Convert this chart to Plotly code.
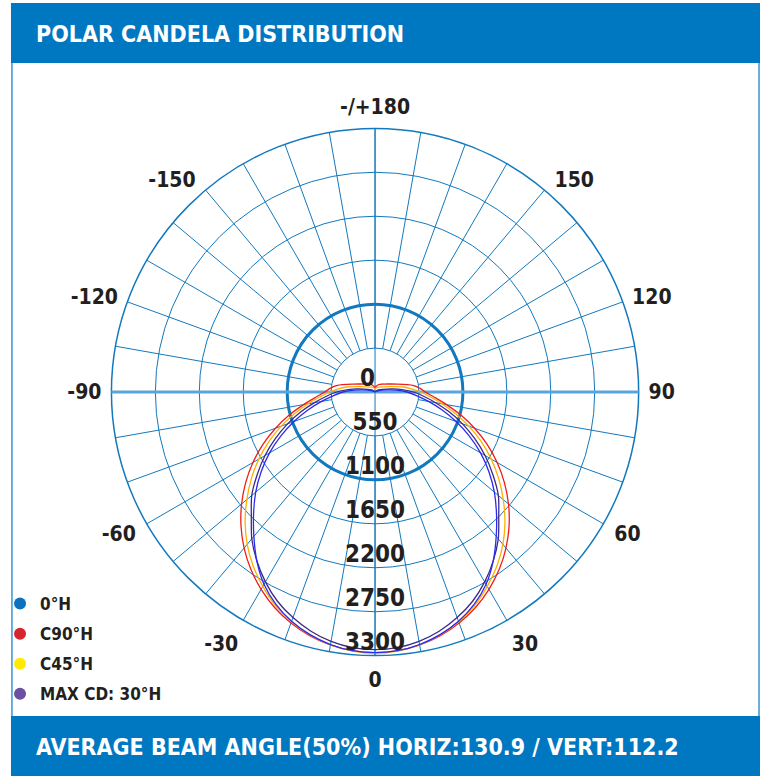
import plotly.graph_objects as go

# ---------------- data ----------------
ANGLES = [0, 5, 10, 15, 20, 25, 30, 35, 40, 45, 50, 55, 60, 65, 70, 75, 80, 85, 90,
          95, 100, 110, 120, 130, 140, 150, 160, 170, 180]
CD_0H = [3262, 3250, 3210, 3145, 3055, 2935, 2780, 2580, 2360, 2150, 1950, 1740, 1525, 1300, 1080, 870, 680, 520, 400,
         260, 150, 40, 10, 0, 0, 0, 0, 0, 0]
CD_C90H = [3262, 3250, 3216, 3157, 3076, 2976, 2852, 2710, 2550, 2373, 2181, 1977, 1765, 1546, 1326, 1112, 908, 745, 630,
           560, 480, 290, 200, 155, 130, 110, 90, 70, 50]
CD_C45H = [3270, 3255, 3215, 3150, 3060, 2950, 2810, 2660, 2490, 2300, 2095, 1890, 1680, 1465, 1250, 1040, 850, 690, 570,
           460, 360, 200, 130, 95, 80, 70, 60, 45, 30]
CD_MAX30 = [3225, 3212, 3170, 3100, 3005, 2890, 2745, 2580, 2400, 2190, 2015, 1800, 1590, 1375, 1165, 960, 770, 610, 480,
            340, 230, 100, 50, 25, 15, 10, 8, 5, 0]

SERIES_NAMES = ["0°H", "C90°H", "C45°H", "MAX CD: 30°H"]
LINE_COLORS = ["#2b2bf0", "#f01c1c", "#ffb000", "#3c2a84"]
LEGEND_COLORS = ["#0b72c2", "#d7252f", "#ffea00", "#6a4fa3"]

RADIAL_TICKS = [0, 550, 1100, 1650, 2200, 2750, 3300]
RADIAL_LABELS = ["0", "550", "1100", "1650", "2200", "2750", "3300"]
# angular label positions as they sit in the picture
ANGULAR_TICKS = [0, 30, 61, 90, 110, 139, 180, 221, 250, 270, 299, 330]
ANGULAR_LABELS = ["0", "30", "60", "90", "120", "150", "-/+180", "-150", "-120", "-90", "-60", "-30"]
SPOKE_STEP = 10
R_MAX = 3300

TITLE = "POLAR CANDELA DISTRIBUTION"
FOOTER = "AVERAGE BEAM ANGLE(50%) HORIZ:130.9 / VERT:112.2"

# ---------------- style ----------------
W, H = 762, 776
FONT = "DejaVu Sans Condensed, DejaVu Sans, sans-serif"
BLUE = "#0078c1"
GRID = "#1279be"
AXIS_LIGHT = "#5aa6dc"
TEXT = "#231f20"

CX, CY, RAD = 373, 392, 265
dom_x = [(CX - RAD) / W, (CX + RAD) / W]
dom_y = [(H - CY - RAD) / H, (H - CY + RAD) / H]


def full_circle(vals):
    theta = ANGLES + [360 - a for a in ANGLES[::-1]]
    r = vals + vals[::-1]
    return r, theta


fig = go.Figure()

# empty traces so that every overlay subplot gets drawn
for sp in ["polar", "polar2", "polar3"]:
    fig.add_trace(go.Scatterpolar(r=[None], theta=[None], mode="lines", subplot=sp,
                                  showlegend=False, hoverinfo="skip"))

series = [CD_C90H, CD_C45H, CD_MAX30, CD_0H]
names_order = [1, 2, 3, 0]
for vals, idx in zip(series, names_order):
    r, th = full_circle(vals)
    fig.add_trace(go.Scatterpolar(
        r=r, theta=th, mode="lines", subplot="polar4",
        line=dict(color=LINE_COLORS[idx], width=1.3, shape="spline", smoothing=0.8),
        showlegend=False, hoverinfo="skip"))

for i, (name, col) in enumerate(zip(SERIES_NAMES, LEGEND_COLORS)):
    fig.add_trace(go.Scatterpolar(
        r=[None], theta=[None], mode="markers", subplot="polar4", name=name,
        legendgroup=f"g{i}",
        marker=dict(color=col, size=12, symbol="circle")))

fig.add_trace(go.Scatterpolar(
    r=RADIAL_TICKS, theta=[0] * len(RADIAL_TICKS), mode="text", subplot="polar4",
    text=RADIAL_LABELS,
    textposition=["top left"] + ["top center"] * (len(RADIAL_TICKS) - 1),
    textfont=dict(family=FONT, size=24, color=TEXT, weight="bold"),
    cliponaxis=False, showlegend=False, hoverinfo="skip"))

transparent = "rgba(0,0,0,0)"
hidden_radial = dict(range=[0, R_MAX], showgrid=False, showticklabels=False,
                     ticks="", showline=False)

fig.update_layout(
    width=W, height=H, autosize=False,
    margin=dict(l=0, r=0, t=0, b=0),
    paper_bgcolor="white", plot_bgcolor="white",
    template="none",
    polar=dict(
        domain=dict(x=dom_x, y=dom_y), bgcolor="white",
        radialaxis=dict(range=[0, R_MAX], tickvals=RADIAL_TICKS[1:-1], showticklabels=False,
                        ticks="", showline=False, gridcolor=GRID, gridwidth=1.3),
        angularaxis=dict(rotation=270, direction="counterclockwise",
                         tickvals=ANGULAR_TICKS, ticktext=ANGULAR_LABELS,
                         showgrid=False, showline=True, linecolor=GRID, linewidth=1.5,
                         ticks="outside", ticklen=5, tickcolor=transparent,
                         tickfont=dict(family=FONT, size=21, color=TEXT, weight="bold")),
    ),
    polar2=dict(
        domain=dict(x=dom_x, y=dom_y), bgcolor=transparent, hole=RADIAL_TICKS[1] / R_MAX,
        radialaxis=dict(range=[RADIAL_TICKS[1], R_MAX], showgrid=False, showticklabels=False,
                        ticks="", showline=False),
        angularaxis=dict(rotation=270, direction="counterclockwise", dtick=SPOKE_STEP,
                         tickmode="linear", tick0=0,
                         showticklabels=False, ticks="", showline=False,
                         gridcolor=GRID, gridwidth=1.35),
    ),
    polar3=dict(
        domain=dict(x=dom_x, y=dom_y), bgcolor=transparent,
        radialaxis=dict(range=[0, R_MAX], tickvals=[RADIAL_TICKS[2]], showticklabels=False,
                        ticks="", showline=False, gridcolor=GRID, gridwidth=2.6),
        angularaxis=dict(rotation=270, direction="counterclockwise", tickvals=[0, 180],
                         showticklabels=False, ticks="", showline=False,
                         gridcolor=GRID, gridwidth=1.3),
    ),
    polar4=dict(
        domain=dict(x=dom_x, y=dom_y), bgcolor=transparent,
        radialaxis=hidden_radial,
        angularaxis=dict(rotation=270, direction="counterclockwise", tickvals=[90, 270],
                         showticklabels=False, ticks="", showline=False,
                         gridcolor=AXIS_LIGHT, gridwidth=2.5),
    ),
    showlegend=True,
    legend=dict(x=-4 / W, y=1 - 586 / H, xanchor="left", yanchor="top",
                bgcolor=transparent, traceorder="grouped", tracegroupgap=5,
                font=dict(family=FONT, size=17, color=TEXT, weight="bold"),
                itemsizing="constant"),
    shapes=[
        dict(type="rect", xref="paper", yref="paper", x0=7 / W, x1=760 / W,
             y0=1 - 63 / H, y1=1 - 3 / H, fillcolor=BLUE, line=dict(width=0), layer="below"),
        dict(type="rect", xref="paper", yref="paper", x0=7 / W, x1=760 / W,
             y0=0, y1=1 - 716 / H, fillcolor=BLUE, line=dict(width=0), layer="below"),
        dict(type="line", xref="paper", yref="paper", x0=8 / W, x1=8 / W,
             y0=1 - 716 / H, y1=1 - 63 / H, line=dict(color="#3a93d2", width=1.5)),
        dict(type="line", xref="paper", yref="paper", x0=759 / W, x1=759 / W,
             y0=1 - 716 / H, y1=1 - 63 / H, line=dict(color="#3a93d2", width=1.5)),
    ],
    annotations=[
        dict(text=TITLE, xref="paper", yref="paper", x=30 / W, y=1 - 34 / H,
             xanchor="left", yanchor="middle", showarrow=False,
             font=dict(family=FONT, size=23, color="white", weight="bold")),
        dict(text=FOOTER, xref="paper", yref="paper", x=30 / W, y=1 - 747 / H,
             xanchor="left", yanchor="middle", showarrow=False,
             font=dict(family=FONT, size=23, color="white", weight="bold")),
    ],
)

fig.write_html("out.html", config={"displayModeBar": False},
               post_script="document.body.style.margin='0px';")
